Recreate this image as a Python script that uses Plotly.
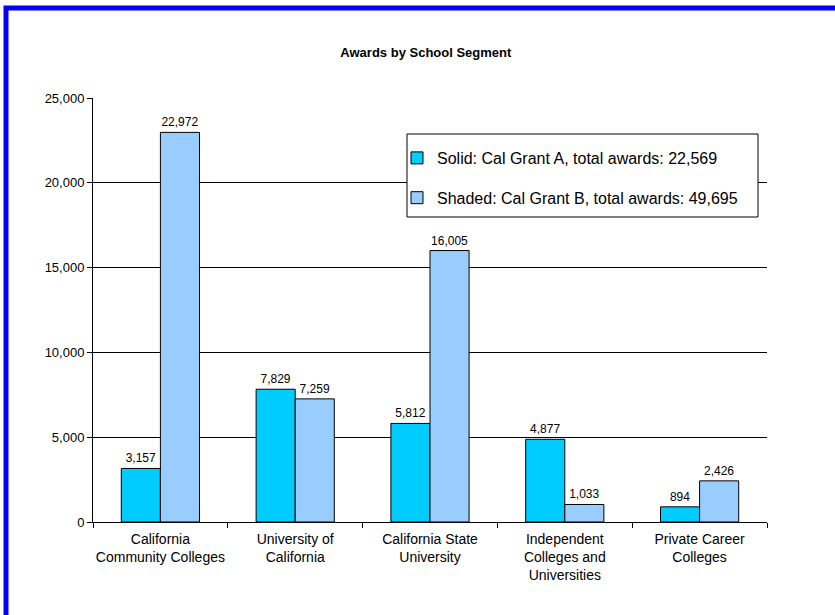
import plotly.graph_objects as go

categories = [
    "California<br>Community Colleges",
    "University of<br>California",
    "California State<br>University",
    "Independent<br>Colleges and<br>Universities",
    "Private Career<br>Colleges",
]
cal_grant_a = [3157, 7829, 5812, 4877, 894]
cal_grant_b = [22972, 7259, 16005, 1033, 2426]
series_names = [
    "Solid: Cal Grant A, total awards: 22,569",
    "Shaded: Cal Grant B, total awards: 49,695",
]
y_ticks = [0, 5000, 10000, 15000, 20000, 25000]

FONT = "Liberation Sans, Arial, sans-serif"

fig = go.Figure()
fig.add_trace(go.Bar(
    x=categories, y=cal_grant_a, name=series_names[0], legendgroup="a",
    marker=dict(color="#00CCFF", line=dict(color="black", width=1)),
    texttemplate="%{y:,}", textposition="outside",
    textfont=dict(size=12, color="black", family=FONT), cliponaxis=False,
))
fig.add_trace(go.Bar(
    x=categories, y=cal_grant_b, name=series_names[1], legendgroup="b",
    marker=dict(color="#99CCFF", line=dict(color="black", width=1)),
    texttemplate="%{y:,}", textposition="outside",
    textfont=dict(size=12, color="black", family=FONT), cliponaxis=False,
))

fig.update_layout(
    width=835, height=615,
    margin=dict(l=93, r=68, t=98, b=93, autoexpand=False),
    paper_bgcolor="white", plot_bgcolor="white",
    font=dict(family=FONT, size=12, color="black"),
    title=dict(text="<b>Awards by School Segment</b>", x=0.51, xanchor="center",
               y=1 - 52 / 615, yanchor="middle", font=dict(size=13, family=FONT)),
    barmode="group", bargap=0.42, bargroupgap=0,
    showlegend=True,
    legend=dict(x=(397 - 93) / 674, y=(522 - 141) / 424, xanchor="left", yanchor="top",
                borderwidth=0, bgcolor="rgba(0,0,0,0)",
                font=dict(size=16, family=FONT), traceorder="grouped",
                tracegroupgap=16, itemclick=False),
)
fig.update_xaxes(
    showline=True, linecolor="black", linewidth=1,
    ticks="outside", ticklen=5, tickcolor="black", tickson="boundaries",
    tickfont=dict(size=14, family=FONT), showgrid=False, ticklabelstandoff=4,
    tickangle=0,
)
fig.update_yaxes(
    range=[0, 25000], tickvals=y_ticks, tickformat=",",
    showline=True, linecolor="black", linewidth=1,
    ticks="outside", ticklen=5, tickcolor="black",
    showgrid=True, gridcolor="black", gridwidth=1, zeroline=False,
    tickfont=dict(size=13, family=FONT),
)

# legend frame
fig.add_shape(type="rect", xref="paper", yref="paper",
              x0=(407 - 93) / 674, x1=(758 - 93) / 674,
              y0=(522 - 217) / 424, y1=(522 - 134) / 424,
              line=dict(color="black", width=1), fillcolor="white", layer="above")

# blue frame (top-left corner visible, extends off the image)
fig.add_shape(type="rect", xref="paper", yref="paper",
              x0=(6 - 93) / 674, x1=1.3, y0=-0.4, y1=(522 - 8) / 424,
              line=dict(color="#0000FF", width=5), layer="below")

fig.write_html("out.html", config={"displayModeBar": False},
               post_script="document.body.style.margin='0px';")
